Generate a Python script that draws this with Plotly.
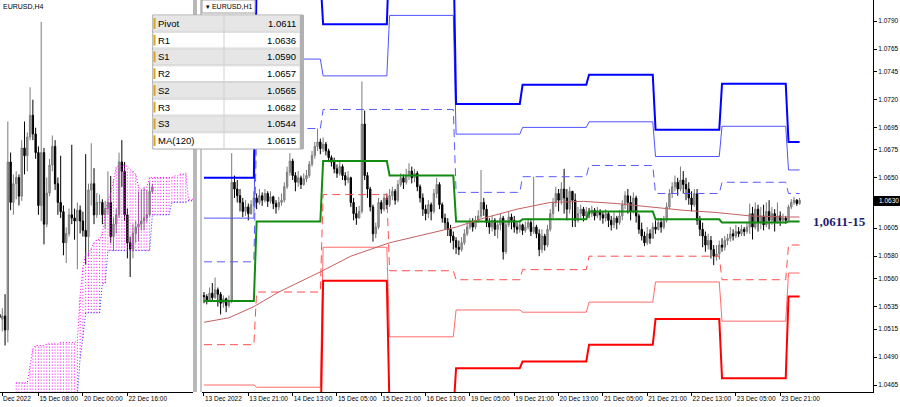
import plotly.graph_objects as go

# ---------------- data (prices in pips above 1.0000) ----------------
h1_first_open = 545
h1_close = [
    544, 541, 547, 543, 550, 546, 538, 542, 536, 540,
    646,
    640, 634, 628, 620, 624, 618, 626, 632, 628,
    634, 630, 636, 629, 633, 627, 624, 628, 630,
    642, 655, 665,
    652, 646, 650, 644, 649, 652,
    662, 670, 678, 682, 676, 680,
    674, 668, 664, 658, 654, 660, 652, 648, 650,
    628, 618, 614, 620,
    698, 652,
    640, 624, 600, 606,
    628, 622, 632, 626, 634, 638, 630,
    644, 650, 646, 652, 656, 650, 654, 642,
    632, 622, 618, 626, 620, 636, 644,
    626, 614, 610, 604, 598, 594, 588, 586, 592,
    600, 606, 610, 606, 612, 616, 628, 622,
    610, 606, 612, 604, 608,
    614, 584, 608, 615, 612, 606,
    604, 608, 603, 606, 610, 602, 606, 600,
    586, 598, 590, 604,
    618, 628, 636, 630, 640, 632, 622, 638, 630,
    612, 618, 622, 616,
    620, 618, 621, 616, 620, 617, 614, 618, 612, 608, 614, 610, 616,
    626, 634, 628, 620, 632, 616,
    604, 598, 592, 600, 596,
    606, 604, 610, 606, 612, 624,
    636, 642, 646, 640, 648, 644, 640,
    632, 626, 636, 612,
    604, 598, 590, 594, 586, 580, 582,
    590, 588, 594, 596, 600, 598, 602, 600, 604, 602, 606,
    618, 606, 622, 610, 616, 608, 620, 612, 618, 610, 616, 612, 614, 612,
    624, 628, 630, 627, 630,
]
h1_high = [
    548, 546, 552, 556, 561, 552, 548, 545, 543, 545,
    672,
    652, 648, 640, 632, 630, 627, 630, 638, 636,
    640, 637, 640, 638, 638, 634, 630, 633, 636,
    646, 660, 672,
    667, 655, 656, 652, 654, 657,
    665, 674, 682, 694, 685, 686,
    682, 676, 670, 668, 662, 664, 662, 655, 656,
    651, 632, 624, 625,
    736, 710,
    655, 642, 626, 610,
    632, 630, 636, 636, 640, 642, 640,
    648, 654, 653, 658, 663, 660, 658, 656,
    644, 636, 626, 630, 628, 640, 650,
    646, 628, 618, 614, 608, 602, 597, 594, 597,
    604, 610, 614, 614, 616, 621, 657, 632,
    626, 614, 616, 614, 612,
    618, 616, 612, 620, 618, 616,
    610, 612, 609, 611, 614, 612, 651, 608,
    604, 604, 600, 608,
    622, 632, 642, 640, 646, 658, 640, 642, 638,
    636, 624, 626, 624,
    624, 623, 625, 623, 624, 622, 620, 622, 620, 616, 619, 616, 621,
    630, 638, 640, 634, 637, 634,
    618, 610, 602, 606, 604,
    610, 612, 614, 614, 616, 628,
    640, 646, 652, 650, 660, 656, 650,
    646, 638, 640, 640,
    616, 610, 602, 600, 598, 590, 590,
    594, 596, 598, 600, 606, 604, 608, 606, 608, 606, 610,
    627, 624, 628, 626, 624, 626, 628, 630, 624, 622, 628, 620, 618, 616,
    626, 631, 633, 631, 632,
]
h1_low = [
    538, 537, 540, 540, 542, 535, 528, 534, 530, 534,
    538,
    632, 628, 620, 615, 616, 612, 617, 624, 622,
    626, 625, 628, 624, 627, 622, 618, 621, 625,
    628, 640, 652,
    648, 638, 642, 640, 643, 646,
    650, 660, 667, 674, 671, 673,
    670, 664, 660, 654, 650, 652, 648, 643, 645,
    624, 612, 608, 614,
    618, 648,
    632, 620, 593, 596,
    604, 618, 620, 622, 624, 630, 626,
    628, 642, 640, 644, 648, 645, 646, 638,
    628, 616, 612, 614, 612, 618, 632,
    622, 610, 604, 598, 592, 586, 582, 581, 584,
    590, 598, 604, 602, 604, 610, 614, 616,
    606, 600, 602, 598, 596,
    603, 577, 582, 606, 604, 601,
    600, 601, 599, 601, 604, 598, 600, 596,
    580, 583, 585, 588,
    602, 614, 624, 620, 626, 618, 612, 618, 606,
    606, 610, 614, 611,
    614, 614, 615, 612, 614, 612, 609, 611, 606, 603, 605, 604, 608,
    612, 622, 618, 612, 618, 610,
    600, 594, 589, 590, 591,
    596, 600, 603, 601, 604, 610,
    622, 632, 638, 634, 638, 636, 630,
    626, 620, 624, 608,
    598, 588, 584, 586, 578, 572, 576,
    578, 584, 585, 590, 593, 594, 596, 597, 598, 598, 600,
    600, 595, 604, 602, 604, 603, 606, 604, 608, 602, 609, 607, 610, 609,
    611, 622, 626, 625, 626,
]

# daily pivot levels (H1 chart), one value per day
day_start = [0, 19, 43, 67, 91, 115, 139, 163, 187, 211]
last_bar = 215
pivot = [540, 611, 665, 652, 611, 613, 620, 613, 610, 611]
r1 = [575, 694, 711, 711, 637, 651, 661, 636, 646, 636]
s1 = [501, 548, 635, 567, 559, 568, 580, 580, 559, 590]
r2 = [614, 756, 741, 795, 689, 695, 700, 669, 696, 657]
s2 = [465, 463, 588, 508, 532, 530, 539, 557, 522, 565]
r3 = [650, 830, 787, 860, 716, 733, 742, 693, 734, 682]
s3 = [430, 410, 558, 440, 480, 486, 501, 524, 471, 544]

ma_bars = [0, 9, 18, 27, 42, 53, 67, 82, 91, 101, 107, 113, 125, 137, 149, 161, 173, 185, 197, 209, 215]
ma_vals = [521, 525, 535, 548, 566, 580, 592, 601, 606, 614, 618, 622, 628, 629, 627, 624, 621, 619, 616, 615, 615]

h1_tick_bars = [0, 16, 32, 48, 64, 80, 96, 112, 128, 144, 160, 176, 192, 208]
h1_tick_labels = ["13 Dec 2022", "13 Dec 21:00", "14 Dec 13:00", "15 Dec 05:00", "15 Dec 21:00",
                  "16 Dec 13:00", "19 Dec 05:00", "19 Dec 21:00", "20 Dec 13:00", "21 Dec 05:00",
                  "21 Dec 21:00", "22 Dec 13:00", "23 Dec 05:00", "23 Dec 21:00"]
price_ticks = [790, 765, 745, 720, 695, 675, 650, 605, 580, 560, 535, 515, 490, 465]
last_price = 630

# H4 chart (left)
h4_first = [548, 553, 531, 546]  # 13 Dec 00:00 O,H,L,C
h4_tick_pos = [0.9, 14, 30, 46]
h4_tick_labels = ["Dec 2022", "15 Dec 08:00", "20 Dec 00:00", "22 Dec 16:00"]
cloud_j = list(range(6, 71))
cloud_top = [504] * 5 + [515, 526] + [528, 528, 528, 528, 529, 529, 529, 529, 529, 530, 530, 530, 530, 530, 530] + \
    [531, 560, 578, 587, 587, 591, 594, 596, 596, 600, 613, 621, 626, 634] + [643, 643, 644, 644, 643] + \
    [641, 640, 638] + [630, 628, 628] + [630] + [636] * 9 + [637, 637, 638, 638] + [639] + [622, 622, 622]
cloud_bot = [490] * 22 + [495, 520, 533] + [549] * 6 + [568, 568] + [589] * 16 + [612] * 7 + [620] * 6 + [621] * 3

table_names = ["Pivot", "R1", "S1", "R2", "S2", "R3", "S3", "MA(120)"]
table_values = ["1.0611", "1.0636", "1.0590", "1.0657", "1.0565", "1.0682", "1.0544", "1.0615"]


def px(v):
    return 1 + v / 10000.0


W, H = 900, 407


def fx(x):
    return x / W


def fy(y):
    return 1 - y / H


# ---------------- derived series ----------------
n = len(h1_close)
h1_open = [h1_first_open] + h1_close[:-1]
hi = [max(h1_high[i], h1_open[i], h1_close[i]) for i in range(n)]
lo = [min(h1_low[i], h1_open[i], h1_close[i]) for i in range(n)]

h4_j, h4_o, h4_h, h4_l, h4_c = [0], [h4_first[0]], [h4_first[1]], [h4_first[2]], [h4_first[3]]
for i in range(n):
    j = (i + 5) // 4
    if j != h4_j[-1]:
        h4_j.append(j); h4_o.append(h1_open[i]); h4_h.append(hi[i]); h4_l.append(lo[i]); h4_c.append(h1_close[i])
    else:
        h4_h[-1] = max(h4_h[-1], hi[i]); h4_l[-1] = min(h4_l[-1], lo[i]); h4_c[-1] = h1_close[i]

fig = go.Figure()


def level_trace(vals, color, width, dash):
    xs, ys = [], []
    for k, v in enumerate(vals):
        s = day_start[k]
        e = day_start[k + 1] - 1 if k + 1 < len(day_start) else last_bar
        xs += [s, e]
        ys += [px(v), px(v)]
    fig.add_trace(go.Scatter(x=xs, y=ys, mode="lines", xaxis="x", yaxis="y",
                             line=dict(color=color, width=width, dash=dash), hoverinfo="skip"))


level_trace(s2, "#ff6b6b", 1, "solid")
level_trace(r2, "#5252ff", 1, "solid")
level_trace(s1, "#ff4d4d", 1, "8px,5px")
level_trace(r1, "#5a5aff", 1, "8px,5px")
level_trace(s3, "#ff0000", 2, "solid")
level_trace(r3, "#0000ff", 2, "solid")
level_trace(pivot, "#118c11", 2, "solid")

fig.add_trace(go.Candlestick(
    x=list(range(n)), open=[px(v) for v in h1_open], high=[px(v) for v in hi],
    low=[px(v) for v in lo], close=[px(v) for v in h1_close], xaxis="x", yaxis="y",
    increasing=dict(line=dict(color="#7a7a7a", width=1), fillcolor="#a8a8a8"),
    decreasing=dict(line=dict(color="#000000", width=1), fillcolor="#000000"),
    whiskerwidth=0, hoverinfo="skip"))

fig.add_trace(go.Scatter(x=ma_bars, y=[px(v) for v in ma_vals], mode="lines", xaxis="x", yaxis="y",
                         line=dict(color="#c26060", width=1), hoverinfo="skip"))

# ---------- left H4 panel ----------
hx, hy = [], []
for j, t, b in zip(cloud_j, cloud_top, cloud_bot):
    hx += [j, j, None]
    hy += [px(b), px(t), None]
fig.add_trace(go.Scatter(x=hx, y=hy, mode="lines", xaxis="x2", yaxis="y2",
                         line=dict(color="#ff00ff", width=1, dash="1px,2px"), hoverinfo="skip"))
fig.add_trace(go.Scatter(x=cloud_j, y=[px(v) for v in cloud_top], mode="lines", xaxis="x2", yaxis="y2",
                         line=dict(color="#ff00ff", width=1, dash="1px,2px"), hoverinfo="skip"))
fig.add_trace(go.Scatter(x=cloud_j, y=[px(v) for v in cloud_bot], mode="lines", xaxis="x2", yaxis="y2",
                         line=dict(color="#2a2aff", width=1, dash="1px,2px"), hoverinfo="skip"))
fig.add_trace(go.Candlestick(
    x=h4_j, open=[px(v) for v in h4_o], high=[px(v) for v in h4_h],
    low=[px(v) for v in h4_l], close=[px(v) for v in h4_c], xaxis="x2", yaxis="y2",
    increasing=dict(line=dict(color="#7a7a7a", width=1), fillcolor="#a8a8a8"),
    decreasing=dict(line=dict(color="#000000", width=1), fillcolor="#000000"),
    whiskerwidth=0, hoverinfo="skip"))

# ---------- axes ----------
ybot = fy(392)
tickfont = dict(family="Liberation Sans, Arial, sans-serif", size=6.5, color="#000000")
fig.update_layout(
    width=W, height=H, margin=dict(l=0, r=0, t=0, b=0),
    paper_bgcolor="white", plot_bgcolor="white", showlegend=False,
    xaxis=dict(domain=[fx(202), fx(873)], range=[-0.72, 241.5], showgrid=False, zeroline=False,
               tickmode="array", tickvals=h1_tick_bars, ticktext=h1_tick_labels, tickangle=0,
               ticks="outside", ticklen=3, tickcolor="#000", showline=True, linecolor="#000", linewidth=1,
               tickfont=tickfont, ticklabelposition="outside right", rangeslider=dict(visible=False),
               anchor="y", fixedrange=True),
    yaxis=dict(domain=[ybot, 1], range=[px(458.75), px(808.75)], side="right", showgrid=False,
               zeroline=False, tickmode="array", tickvals=[px(v) for v in price_ticks],
               ticktext=["%.4f" % px(v) for v in price_ticks], ticks="outside", ticklen=3,
               tickcolor="#000", showline=True, linecolor="#000", linewidth=1, tickfont=tickfont,
               anchor="x", fixedrange=True),
    xaxis2=dict(domain=[0, fx(193)], range=[0.18, 69.6], showgrid=False, zeroline=False,
                tickmode="array", tickvals=h4_tick_pos, ticktext=h4_tick_labels, tickangle=0,
                ticks="outside", ticklen=3, tickcolor="#000", showline=True, linecolor="#000", linewidth=1,
                tickfont=tickfont, ticklabelposition="outside right", rangeslider=dict(visible=False),
                anchor="y2", fixedrange=True),
    yaxis2=dict(domain=[ybot, 1], range=[px(498.1), px(750.1)], showgrid=False, zeroline=False,
                showticklabels=False, ticks="", showline=False, anchor="x2", fixedrange=True),
)

shapes = []
annots = []


def rect(x0, y0, x1, y1, fill, line=None, lw=0):
    shapes.append(dict(type="rect", xref="paper", yref="paper", x0=fx(x0), x1=fx(x1), y0=fy(y1), y1=fy(y0),
                       fillcolor=fill, line=dict(color=line or fill, width=lw), layer="above"))


def text(x, y, s, size, color="#000", xanchor="left", family="Liberation Sans, Arial, sans-serif", bold=False):
    annots.append(dict(xref="paper", yref="paper", x=fx(x), y=fy(y), text=("<b>%s</b>" % s) if bold else s,
                       showarrow=False, xanchor=xanchor, yanchor="middle",
                       font=dict(family=family, size=size, color=color), borderpad=0))


# panel separators
rect(193, 0, 197, 392, "#b8b8b8")
rect(197, 0, 200, 407, "#ffffff")
rect(200, 0, 202, 392, "#c8c8c8")

# header labels
rect(202, 0, 255, 13, "#ffffff", "#a0a0a0", 1)
text(205, 6.5, "▾ EURUSD,H1", 7, "#000")
text(2, 6, "EURUSD,H4", 7, "#000")

# table
tx0, tx1, ty0, rh = 152.5, 303, 15, 16.75
rect(tx0, ty0, tx1, ty0 + rh * len(table_names), "#ffffff", "#a8a8a8", 1)
for k, (nm, val) in enumerate(zip(table_names, table_values)):
    y0 = ty0 + k * rh
    rect(tx0 + 0.5, y0 + 0.5, tx1 - 3, y0 + rh - 0.5, "#e6e6e6" if k % 2 == 0 else "#ffffff", "#d6d6d6", 1)
    rect(tx0 + 1, y0 + 3, tx0 + 3, y0 + rh - 3, "#d9a520")
    text(157, y0 + rh / 2, nm, 9.5, "#000")
    text(297, y0 + rh / 2, val, 9.5, "#000", xanchor="right")
shapes.append(dict(type="line", xref="paper", yref="paper", x0=fx(224), x1=fx(224), y0=fy(ty0),
                   y1=fy(ty0 + rh * len(table_names)), line=dict(color="#d0d0d0", width=1), layer="above"))
rect(300, ty0, 304, ty0 + rh * len(table_names), "#b0b0b0")

# level annotation
text(839, 221.5, "1,0611-15", 13, "#1c1c70", xanchor="center",
     family="Liberation Serif, Times New Roman, serif", bold=True)

# current price box
rect(873.5, 196, 900, 206, "#000000")
text(878, 201, "%.4f" % px(last_price), 6.5, "#ffffff")

fig.update_layout(shapes=shapes, annotations=annots)
fig.write_html("out.html", config={"displayModeBar": False, "staticPlot": True},
               post_script="document.body.style.margin='0';document.body.style.overflow='hidden';")
